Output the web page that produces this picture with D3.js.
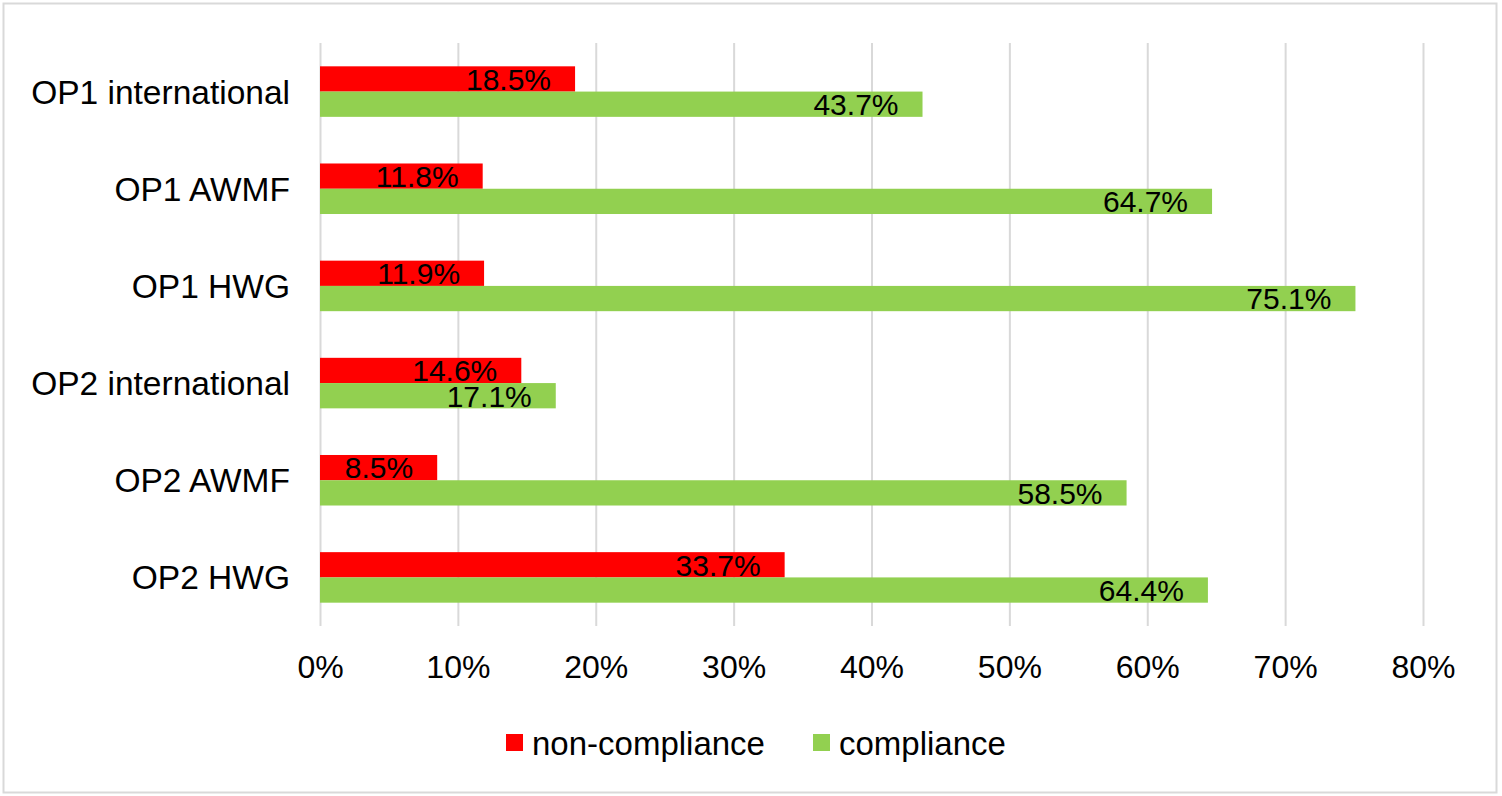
<!DOCTYPE html>
<html>
<head>
<meta charset="utf-8">
<script src="https://cdn.jsdelivr.net/npm/d3@7"></script>
<style>
	body { margin: 0; background: #fff; }
	svg { display: block; font-family: "Liberation Sans", Arial, sans-serif; }
</style>
</head>
<body>
<svg class="figure" width="1502" height="796"></svg>
<script>
'use strict' ;

let categories = [ "OP1 international", "OP1 AWMF", "OP1 HWG", "OP2 international", "OP2 AWMF", "OP2 HWG" ] ;
let seriesNames = [ "non-compliance", "compliance" ] ;
let nonCompliance = [ 0.185, 0.118, 0.119, 0.146, 0.085, 0.337 ] ;
let compliance = [ 0.437, 0.647, 0.751, 0.171, 0.585, 0.644 ] ;
let xTicks = [ 0, 0.1, 0.2, 0.3, 0.4, 0.5, 0.6, 0.7, 0.8 ] ;

let colours = { "non-compliance": "#ff0000", "compliance": "#92d050" } ;

let geom = {
	plot: { left: 320, right: 1423, top: 43, bottom: 626 },
	font: { category: 33.5, tick: 32, label: 30, legend: 33 }
} ;

let svg = d3.select( "svg.figure" ) ;

// chart border
svg.append( "rect" )
	.attr( "x", 3.5 )
	.attr( "y", 3.5 )
	.attr( "width", 1493 )
	.attr( "height", 789 )
	.attr( "fill", "none" )
	.attr( "stroke", "#d9d9d9" )
	.attr( "stroke-width", 2 ) ;

let x = d3.scaleLinear()
	.domain( [ 0, 0.8 ] )
	.range( [ geom.plot.left, geom.plot.right ] ) ;

let y = d3.scaleBand()
	.domain( categories )
	.range( [ geom.plot.top, geom.plot.bottom ] )
	.paddingInner( 0.48 )
	.paddingOuter( 0.24 ) ;

let ySeries = d3.scaleBand()
	.domain( seriesNames )
	.range( [ 0, y.bandwidth() ] ) ;

// gridlines + tick labels
{
	let axis = svg.append( "g" )
		.attr( "class", "axis x" )
		.attr( "transform", "translate(0," + geom.plot.bottom + ")" )
		.call( d3.axisBottom( x )
			.tickValues( xTicks )
			.tickFormat( d3.format( ".0%" ))
			.tickSize( -( geom.plot.bottom - geom.plot.top ))) ;
	axis.select( ".domain" ).remove() ;
	axis.selectAll( ".tick line" )
		.attr( "stroke", "#d9d9d9" )
		.attr( "stroke-width", 2 ) ;
	axis.selectAll( ".tick text" )
		.attr( "y", 52 )
		.attr( "dy", 0 )
		.attr( "fill", "#000" )
		.attr( "font-size", geom.font.tick )
		.attr( "font-family", "Liberation Sans, Arial, sans-serif" ) ;
}

// category labels
{
	let axis = svg.append( "g" )
		.attr( "class", "axis y" )
		.attr( "transform", "translate(" + geom.plot.left + ",0)" )
		.call( d3.axisLeft( y ).tickSize( 0 ).tickPadding( 30 )) ;
	axis.select( ".domain" ).remove() ;
	axis.selectAll( ".tick text" )
		.attr( "dy", "0.36em" )
		.attr( "fill", "#000" )
		.attr( "font-size", geom.font.category )
		.attr( "font-family", "Liberation Sans, Arial, sans-serif" ) ;
}

let rows = categories.map( ( c, i ) => ({
	category: c,
	values: [
		{ series: "non-compliance", value: nonCompliance[i] },
		{ series: "compliance", value: compliance[i] }
	]
})) ;

let groups = svg.selectAll( "g.category" )
	.data( rows )
	.enter()
	.append( "g" )
	.attr( "class", "category" )
	.attr( "transform", d => "translate(0," + y( d.category ) + ")" ) ;

let bars = groups.selectAll( "g.bar" )
	.data( d => d.values )
	.enter()
	.append( "g" )
	.attr( "class", "bar" ) ;

bars.append( "rect" )
	.attr( "x", x( 0 ))
	.attr( "y", d => ySeries( d.series ))
	.attr( "width", d => x( d.value ) - x( 0 ))
	.attr( "height", ySeries.bandwidth() )
	.attr( "fill", d => colours[d.series] ) ;

bars.append( "text" )
	.attr( "x", d => x( d.value ) - 24 )
	.attr( "y", d => ySeries( d.series ) + ySeries.bandwidth() / 2 )
	.attr( "dy", "0.36em" )
	.attr( "text-anchor", "end" )
	.attr( "font-size", geom.font.label )
	.attr( "fill", "#000" )
	.text( d => d3.format( ".1%" )( d.value )) ;

// legend
{
	let legendX = [ 506, 813 ] ;
	let legend = svg.selectAll( "g.legend" )
		.data( seriesNames )
		.enter()
		.append( "g" )
		.attr( "class", "legend" )
		.attr( "transform", ( d, i ) => "translate(" + legendX[i] + ",743)" ) ;
	legend.append( "rect" )
		.attr( "x", 0 )
		.attr( "y", -9 )
		.attr( "width", 17 )
		.attr( "height", 17 )
		.attr( "fill", d => colours[d] ) ;
	legend.append( "text" )
		.attr( "x", 26 )
		.attr( "y", 0 )
		.attr( "dy", "0.36em" )
		.attr( "font-size", geom.font.legend )
		.attr( "fill", "#000" )
		.text( d => d ) ;
}
</script>
</body>
</html>
